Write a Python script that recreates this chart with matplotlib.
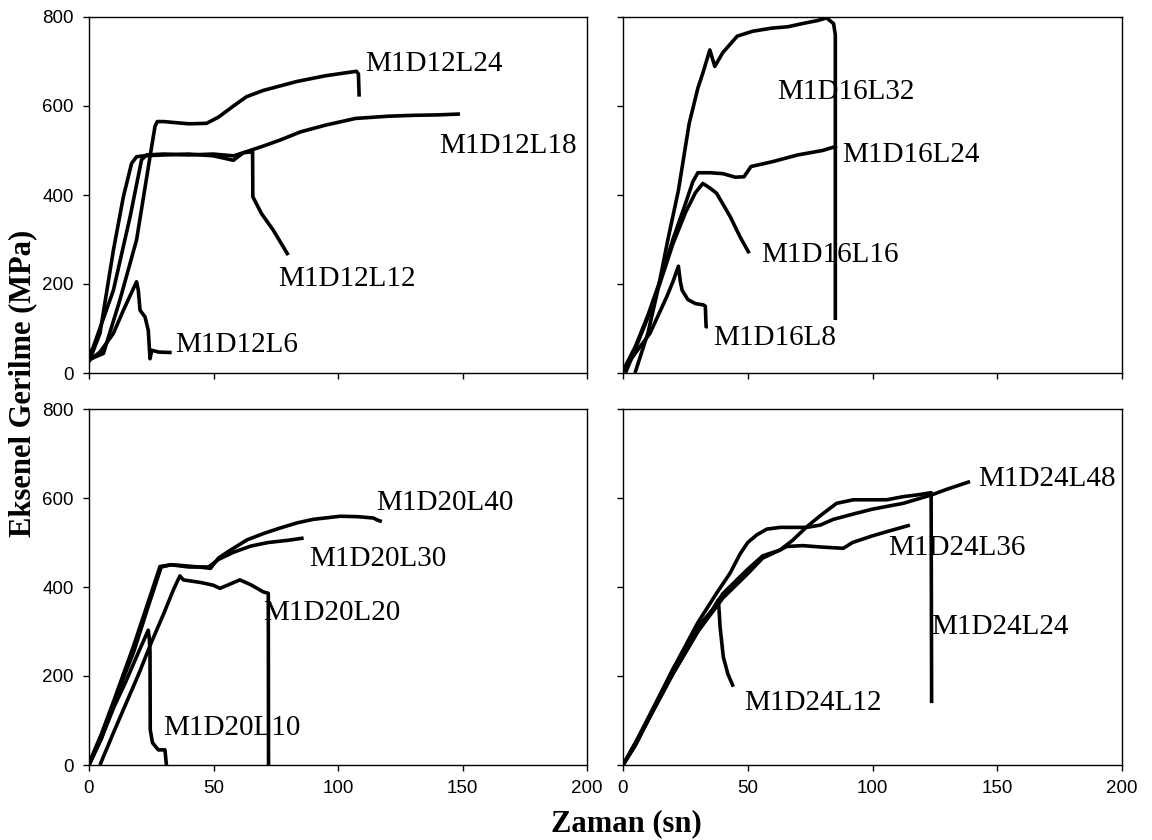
import matplotlib
matplotlib.use("Agg")
import matplotlib.pyplot as plt

# ---------------- data (time s, axial stress MPa) ----------------
# Panel D12
d12l6_x = [0, 4.4, 9.8, 13.8, 19.1, 19.8, 20.5, 22.5, 23.8, 24.5, 25.2, 28, 33.2]
d12l6_y = [28, 47, 89, 141, 205, 186, 141, 126, 96, 32, 51, 47, 46]
d12l12_x = [0, 1.7, 5, 9.8, 16.5, 21.1, 23.1, 30, 40, 50, 58, 62, 65.7, 65.8, 69.3, 74, 80]
d12l12_y = [40, 58, 110, 186, 351, 479, 490, 492, 490, 492, 488, 495, 497, 396, 358, 321, 265]
d12l18_x = [0, 4.4, 9.8, 13.8, 17.1, 19.1, 22, 30, 40, 50, 58, 62, 70, 77, 85, 95, 107, 120, 130, 140, 149]
d12l18_y = [25, 89, 276, 396, 471, 486, 488, 490, 492, 488, 478, 495, 510, 524, 542, 557, 572, 577, 579, 580, 582]
d12l24_x = [0, 5.8, 12.4, 19.1, 24.5, 26.5, 27.4, 30, 40, 47.2, 52, 58, 63.3, 70, 83.4, 95, 107.4, 108.2, 108.5]
d12l24_y = [30, 44, 164, 299, 486, 554, 565, 565, 560, 561, 575, 600, 621, 635, 655, 668, 678, 672, 621]

# Panel D16
d16l8_x = [0, 5, 10.8, 17.5, 20, 22.2, 23, 23.7, 26, 29, 32.2, 33, 33.3, 34]
d16l8_y = [5, 45, 89, 171, 205, 240, 205, 186, 165, 156, 153, 150, 104, 104]
d16l16_x = [1, 5, 10, 15, 20, 25, 29, 32, 35, 37.5, 40, 43, 47, 50.6]
d16l16_y = [0, 55, 125, 205, 290, 360, 405, 426, 415, 404, 380, 351, 305, 269]
d16l24_x = [0, 5, 10, 15, 20, 25, 28, 30, 35, 40, 45, 48.5, 51.3, 60, 70, 80, 85.8]
d16l24_y = [5, 60, 130, 210, 300, 380, 430, 450, 450, 448, 440, 441, 464, 475, 490, 500, 510]
d16l32_x = [4.8, 10, 14.1, 18, 22.2, 26.5, 30, 32, 34.8, 36.8, 40, 45.8, 52, 59.6, 66, 73.4, 78,
            81.6, 84.4, 85.1, 85.1]
d16l32_y = [0, 90, 190, 300, 410, 560, 640, 674, 726, 689, 720, 757, 768, 775, 778, 787, 792,
            798, 785, 760, 119]

# Panel D20
d20l10_x = [0, 5, 10, 15, 20, 23.8, 24.2, 24.5, 24.6, 25.5, 27.8, 30.5, 31.1]
d20l10_y = [0, 60, 130, 190, 255, 303, 285, 258, 79, 50, 34, 34, 0]
d20l20_x = [4.4, 10, 15, 20, 25, 30, 34, 36.5, 37.9, 45, 49.9, 52.6, 56, 60.6, 65, 70, 72, 72.1]
d20l20_y = [0, 75, 140, 205, 275, 340, 395, 425, 416, 410, 404, 397, 405, 416, 405, 389, 386, 0]
d20l30_x = [0, 5, 10, 18, 24, 29, 33, 40, 48, 52, 58, 65, 72, 80, 86.2]
d20l30_y = [0, 60, 140, 255, 360, 445, 450, 445, 445, 462, 478, 492, 500, 505, 510]
d20l40_x = [0, 5, 10, 17.8, 24, 28.5, 33, 38, 44, 48.8, 52, 56, 63.5, 70, 77, 83.5, 90, 100.9,
            108, 114.2, 116, 117.6]
d20l40_y = [4, 70, 145, 266, 370, 446, 450, 448, 445, 442, 465, 480, 506, 520, 533, 544, 552, 559,
            558, 555, 550, 547]

# Panel D24
d24l12_x = [0, 5, 10, 20, 30, 36, 38.2, 38.6, 38.9, 40.2, 42, 44.2]
d24l12_y = [0, 50, 100, 205, 300, 350, 371, 340, 311, 243, 205, 176]
d24l24_x = [0, 5, 10, 20, 30, 36, 40, 50, 56, 62.9, 68, 73.6, 79, 85.6, 92.3, 105.7, 112.3, 118,
            123.5, 123.7]
d24l24_y = [0, 50, 105, 215, 310, 350, 385, 440, 470, 483, 505, 535, 560, 588, 596, 596, 603, 607,
            612, 139]
d24l36_x = [0, 5, 10, 20, 30, 40, 50, 56, 62.9, 65.6, 72, 79, 85, 88.3, 92, 100, 108, 115]
d24l36_y = [0, 45, 100, 205, 300, 375, 430, 465, 483, 491, 493, 490, 488, 487, 500, 515, 528, 539]
d24l48_x = [0, 5, 10, 20, 30, 37.5, 42.9, 47, 50, 53.6, 57.6, 63, 68.3, 73.6, 79, 84.3, 92.3, 100,
            112.3, 123.7, 130, 139.1]
d24l48_y = [0, 45, 100, 215, 320, 386, 431, 475, 500, 517, 530, 534, 534, 534, 539, 552, 564, 575,
            588, 607, 620, 637]

# labels: (text, x, y) in data coordinates (left/baseline)
labels_d12 = [("M1D12L24", 110.8, 679), ("M1D12L18", 140.7, 495),
              ("M1D12L12", 76.0, 195), ("M1D12L6", 34.8, 48)]
labels_d16 = [("M1D16L32", 61.9, 616), ("M1D16L24", 87.8, 474),
              ("M1D16L16", 55.4, 250), ("M1D16L8", 36.1, 62)]
labels_d20 = [("M1D20L40", 115.3, 574), ("M1D20L30", 88.6, 448),
              ("M1D20L20", 69.9, 326), ("M1D20L10", 29.8, 67)]
labels_d24 = [("M1D24L48", 142.4, 627), ("M1D24L36", 106.3, 473),
              ("M1D24L24", 123.7, 294), ("M1D24L12", 48.5, 124)]

xticks = [0, 50, 100, 150, 200]
yticks = [0, 200, 400, 600, 800]

panels = [
    ([(d12l6_x, d12l6_y), (d12l12_x, d12l12_y), (d12l18_x, d12l18_y), (d12l24_x, d12l24_y)], labels_d12),
    ([(d16l8_x, d16l8_y), (d16l16_x, d16l16_y), (d16l24_x, d16l24_y), (d16l32_x, d16l32_y)], labels_d16),
    ([(d20l10_x, d20l10_y), (d20l20_x, d20l20_y), (d20l30_x, d20l30_y), (d20l40_x, d20l40_y)], labels_d20),
    ([(d24l12_x, d24l12_y), (d24l24_x, d24l24_y), (d24l36_x, d24l36_y), (d24l48_x, d24l48_y)], labels_d24),
]

W, H = 1152, 840
fig = plt.figure(figsize=(W / 100, H / 100), dpi=100)

rects = [
    [89 / W, 1 - 373 / H, 498 / W, 356 / H],
    [623 / W, 1 - 373 / H, 499 / W, 356 / H],
    [89 / W, 1 - 765 / H, 498 / W, 356 / H],
    [623 / W, 1 - 765 / H, 499 / W, 356 / H],
]

for i, ((series, labs), rect) in enumerate(zip(panels, rects)):
    ax = fig.add_axes(rect)
    for xs, ys in series:
        ax.plot(xs, ys, color="black", lw=2.6, solid_joinstyle="round", solid_capstyle="butt")
    for txt, tx, ty in labs:
        ax.text(tx, ty, txt, fontsize=21, family="Liberation Serif", color="black",
                ha="left", va="baseline")
    ax.set_xlim(0, 200)
    ax.set_ylim(0, 800)
    ax.set_xticks(xticks)
    ax.set_yticks(yticks)
    ax.tick_params(direction="out", length=4, width=1, pad=7, labelsize=13.5)
    for lab in ax.get_xticklabels() + ax.get_yticklabels():
        lab.set_family("Liberation Sans")
    if i in (1, 3):
        ax.set_yticklabels([])
    if i in (0, 1):
        ax.set_xticklabels([])
    for sp in ax.spines.values():
        sp.set_linewidth(1.0)
        sp.set_color("black")

fig.text(0.020, 0.5435, "Eksenel Gerilme (MPa)", rotation=90, ha="center", va="center",
         fontsize=22, fontweight="bold", family="Liberation Serif")
fig.text(0.544, 0.011, "Zaman (sn)", ha="center", va="baseline",
         fontsize=22, fontweight="bold", family="Liberation Serif")

fig.savefig("out.png", dpi=100)
